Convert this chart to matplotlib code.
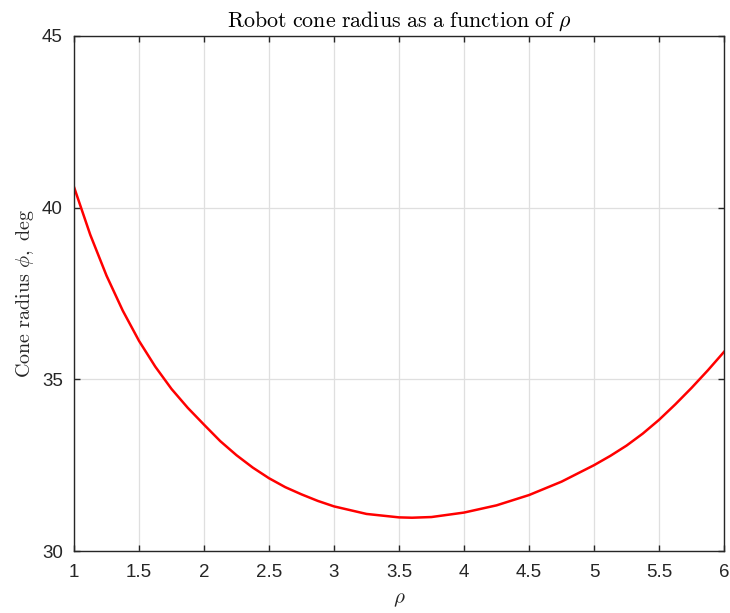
import matplotlib
matplotlib.use('Agg')
import matplotlib.pyplot as plt
from matplotlib.ticker import FormatStrFormatter

# values
rho = [1.0, 1.125, 1.25, 1.375, 1.5, 1.625, 1.75, 1.875, 2.0, 2.125, 2.25,
       2.375, 2.5, 2.625, 2.75, 2.875, 3.0, 3.25, 3.5, 3.6, 3.75, 4.0, 4.25,
       4.5, 4.75, 5.0, 5.125, 5.25, 5.375, 5.5, 5.625, 5.75, 5.875, 6.0]
phi = [40.60, 39.21, 38.02, 37.00, 36.12, 35.37, 34.72, 34.17, 33.68,
       33.20, 32.79, 32.43, 32.12, 31.86, 31.65, 31.46, 31.30, 31.08, 30.98,
       30.97, 30.99, 31.12, 31.33, 31.63, 32.02, 32.50, 32.77, 33.07, 33.42,
       33.82, 34.27, 34.75, 35.26, 35.80]
x_ticks = [1, 1.5, 2, 2.5, 3, 3.5, 4, 4.5, 5, 5.5, 6]
y_ticks = [30, 35, 40, 45]

plt.rcParams['mathtext.fontset'] = 'cm'
dark = '#262626'

fig = plt.figure(figsize=(7.3, 6.13), dpi=100)
ax = fig.add_axes([0.1014, 0.1011, 0.8904, 0.8402])

ax.plot(rho, phi, color='red', linewidth=1.8)

ax.set_xlim(1, 6)
ax.set_ylim(30, 45)
ax.set_xticks(x_ticks)
ax.set_yticks(y_ticks)
ax.xaxis.set_major_formatter(FormatStrFormatter('%g'))

# MATLAB-like box, ticks and grid
ax.grid(True, color='#dfdfdf', linewidth=0.9)
ax.set_axisbelow(True)
for s in ax.spines.values():
    s.set_color(dark)
    s.set_linewidth(1.0)
ax.tick_params(direction='in', length=4, width=1.0, color=dark,
               top=True, right=True, labelsize=13.5, labelcolor=dark)
ax.tick_params(axis='x', pad=9)
ax.tick_params(axis='y', pad=8)
for lab in ax.get_xticklabels() + ax.get_yticklabels():
    lab.set_family('Liberation Sans')

ax.set_title(r'$\mathrm{Robot\ cone\ radius\ as\ a\ function\ of\ }\rho$',
             fontsize=15.8, color='black', pad=7)
ax.set_xlabel(r'$\rho$', fontsize=15, color=dark, labelpad=6)
ax.set_ylabel(r'$\mathrm{Cone\ radius\ }\phi\mathrm{,\ deg}$', fontsize=14.5,
              color=dark, labelpad=4)

plt.savefig('out.png', dpi=100)
